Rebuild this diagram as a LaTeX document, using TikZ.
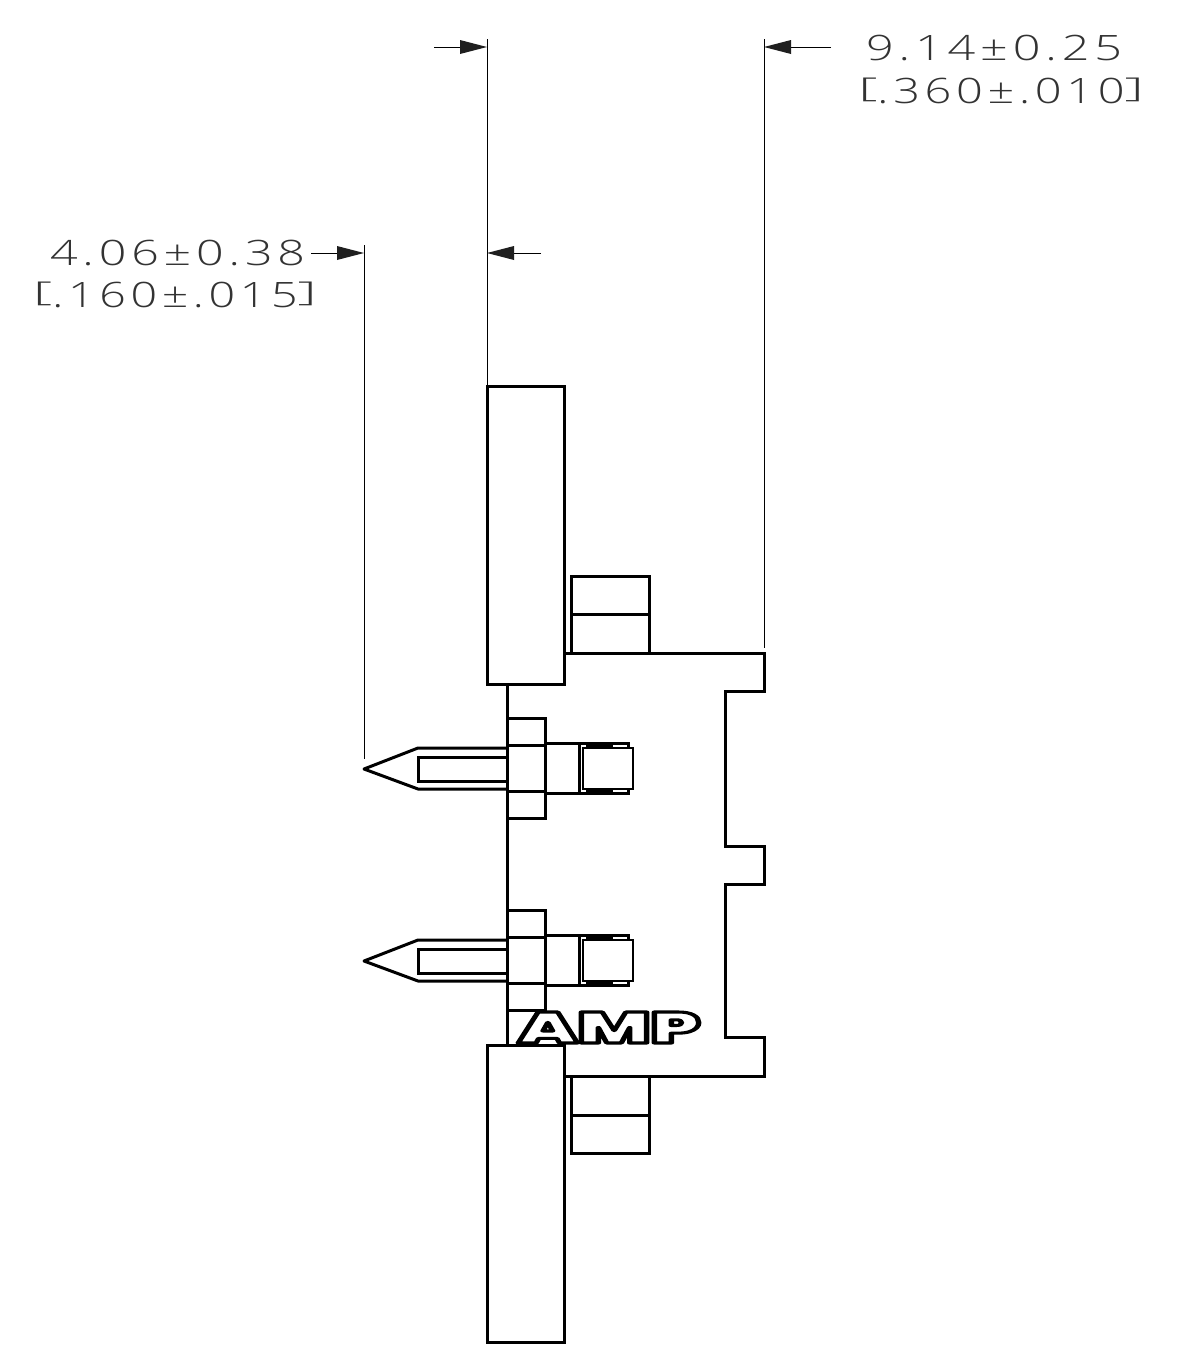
\documentclass[tikz,border=0pt]{standalone}
\usepackage{fontspec}
\usepackage{graphicx}
\newfontfamily\dimf[LetterSpace=10]{Open Sans Light}
\newfontfamily\logof{Poppins Black}
\newcommand{\lbrk}{\raisebox{.16em}{\scalebox{1.3}[.78]{[}}}
\newcommand{\rbrk}{\raisebox{.16em}{\scalebox{1.3}[.78]{]}}}
\newcommand{\dimtxt}[2]{\resizebox{#1pt}{\height}{\fontsize{35pt}{35pt}\dimf #2}}
\tikzset{
  part/.style={draw=black,line width=3pt,line join=miter},
  ext/.style={draw=black,line width=1pt},
  lead/.style={draw=black,line width=1pt},
  head/.style={fill=black!88,draw=none},
  dimtext/.style={anchor=base west,inner sep=0pt,outer sep=0pt,text=black!80},
}
\newcommand{\arrowR}[2]{\fill[head] (#1-27,#2-7) -- (#1,#2) -- (#1-27,#2+7) -- cycle;}
\newcommand{\arrowL}[2]{\fill[head] (#1+27,#2-7) -- (#1,#2) -- (#1+27,#2+7) -- cycle;}
\newcommand{\pinview}[1]{%
  \begin{scope}[shift={(0,#1)}]
    \draw[part] (507,-51) -- (545,-51) -- (545,49) -- (507,49);
    \draw[part] (507,-24) -- (545,-24);
    \draw[part] (507,22) -- (545,22);
    \draw[part,line join=round] (507,-21) -- (418,-21) -- (364,0) -- (418,20) -- (507,20);
    \draw[part] (507,-12) -- (418,-12) -- (418,12) -- (507,12);
    \draw[part] (545,-26) -- (628,-26) -- (628,-21);
    \draw[part] (545,24) -- (628,24) -- (628,20);
    \draw[part] (579,-26) -- (579,24);
    \draw[part,line width=2.6pt] (583,-21) rectangle (633,20);
    \draw[draw=black,line width=3.8pt] (586,-23.5) -- (613,-23.5);
    \draw[draw=black,line width=3.8pt] (586,22) -- (613,22);
  \end{scope}}
\begin{document}
\begin{tikzpicture}[x=1pt,y=-1pt]
\useasboundingbox (0,0) rectangle (1177,1353);
\fill[white] (0,0) rectangle (1177,1353);
\draw[part] (564,653) -- (764,653) -- (764,691) -- (725,691) -- (725,846) -- (764,846)
  -- (764,884) -- (725,884) -- (725,1037) -- (764,1037) -- (764,1076) -- (564,1076);
\draw[part] (507,684) -- (507,1045);
\pinview{769}
\pinview{961}
\node[inner sep=0pt,anchor=base west] (logo) at (518,1043) {\resizebox{182pt}{31pt}{\logof\special{pdf:code q 1 Tr 1 j 0.7 w 0 0 0 RG}AMP\special{pdf:code Q}}};
\draw[part,fill=white] (487,386) rectangle (564,684);
\draw[part,fill=white] (487,1045) rectangle (564,1342);
\draw[part] (571,653) -- (571,576) -- (649,576) -- (649,653);
\draw[part] (571,614) -- (649,614);
\draw[part] (571,1076) -- (571,1153) -- (649,1153) -- (649,1076);
\draw[part] (571,1115) -- (649,1115);
\coordinate (e1a) at (487,39); \coordinate (e1b) at (487,386);
\coordinate (e2a) at (764,39); \coordinate (e2b) at (764,648);
\coordinate (e3a) at (364,245); \coordinate (e3b) at (364,759);
\draw[ext] (e1a) -- (e1b);
\draw[ext] (e2a) -- (e2b);
\draw[ext] (e3a) -- (e3b);
\coordinate (l1a) at (434,47); \coordinate (l1b) at (461,47);
\coordinate (l2a) at (831,47); \coordinate (l2b) at (790,47);
\coordinate (l3a) at (541,253); \coordinate (l3b) at (514,253);
\coordinate (l4a) at (311,253); \coordinate (l4b) at (338,253);
\draw[lead] (l1a) -- (l1b);
\draw[lead] (l2a) -- (l2b);
\draw[lead] (l3a) -- (l3b);
\draw[lead] (l4a) -- (l4b);
\arrowR{487}{47}
\arrowL{764}{47}
\arrowL{487}{253}
\arrowR{364}{253}
\node[dimtext] (t1) at (866,60) {\dimtxt{256}{9.14±0.25}};
\node[dimtext] (t2) at (858,103) {\dimtxt{286}{\lbrk.360±.010\rbrk}};
\node[dimtext] (t3) at (50,265) {\dimtxt{255}{4.06±0.38}};
\node[dimtext] (t4) at (33,307) {\dimtxt{284}{\lbrk.160±.015\rbrk}};
\end{tikzpicture}
\end{document}
